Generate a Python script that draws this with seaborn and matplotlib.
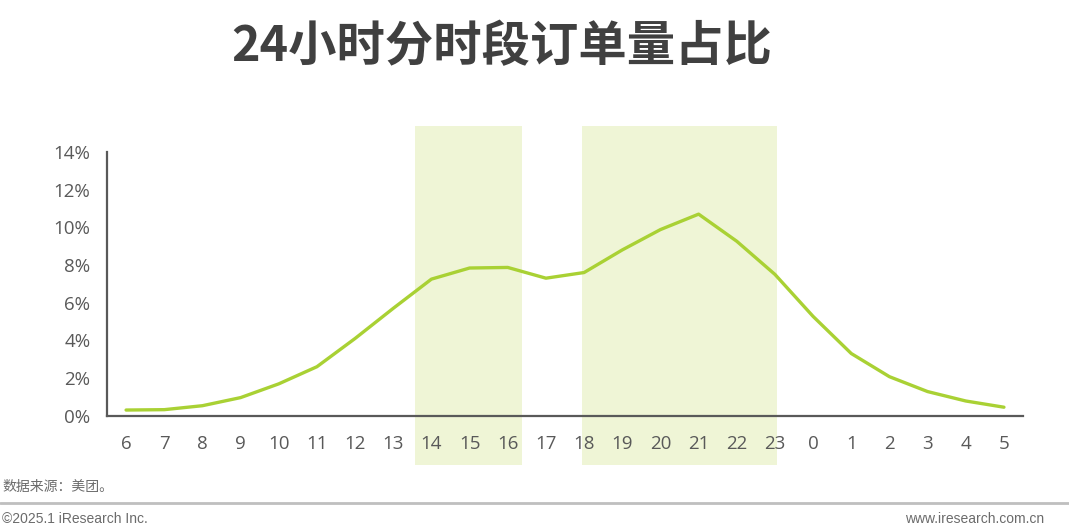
import pandas as pd
import numpy as np
import matplotlib.pyplot as plt
import seaborn as sns
from matplotlib.patches import Rectangle
import matplotlib.transforms as mtransforms

# data
hours = ["6", "7", "8", "9", "10", "11", "12", "13", "14", "15", "16", "17",
         "18", "19", "20", "21", "22", "23", "0", "1", "2", "3", "4", "5"]
share = [0.30, 0.32, 0.53, 0.96, 1.69, 2.60, 4.10, 5.70, 7.25, 7.84, 7.87, 7.30,
         7.60, 8.80, 9.88, 10.70, 9.26, 7.50, 5.27, 3.30, 2.07, 1.28, 0.78, 0.45]
peak_bands = [("14", "16"), ("18", "23")]
y_ticks = [0, 2, 4, 6, 8, 10, 12, 14]

title = "24小时分时段订单量占比"
source = "数据来源：美团。"
footer_left = "©2025.1 iResearch Inc."
footer_right = "www.iresearch.com.cn"

line_color = "#A9D134"
band_color = "#EFF5D6"
axis_color = "#595959"

sns.set_style("white")
plt.rcParams['font.family'] = ['Noto Sans CJK SC', 'DejaVu Sans']

df = pd.DataFrame({"hour": hours, "share": share})
df["pos"] = np.arange(len(df))

fig = plt.figure(figsize=(10.69, 5.29), dpi=100)
ax = fig.add_axes([0.1001, 0.2142, 0.8569, 0.4985])

# highlighted time slots, running below the tick labels
band_pads = [(0.42, 0.37), (0.05, 0.05)]
trans = mtransforms.blended_transform_factory(ax.transData, ax.transAxes)
for (start, end), (pl, pr) in zip(peak_bands, band_pads):
    x0 = hours.index(start) - pl
    x1 = hours.index(end) + pr
    ax.add_patch(Rectangle((x0, -0.187), x1 - x0, 1.286, transform=trans,
                           facecolor=band_color, edgecolor="none",
                           clip_on=False, zorder=0))

sns.lineplot(data=df, x="pos", y="share", ax=ax, color=line_color,
             linewidth=2.4, solid_capstyle="round", solid_joinstyle="round",
             zorder=3)

ax.set_xlim(-0.5, 23.5)
ax.set_ylim(0, 14)
ax.set_xticks(df["pos"])
ax.set_xticklabels(hours)
ax.set_yticks(y_ticks)
ax.set_yticklabels([f"{t}%" for t in y_ticks])
ax.set_xlabel("")
ax.set_ylabel("")
ax.tick_params(axis="both", length=0, labelsize=13.5, labelcolor=axis_color)
ax.tick_params(axis="x", pad=14)
ax.tick_params(axis="y", pad=12)
for lbl in ax.get_xticklabels() + ax.get_yticklabels():
    lbl.set_family(['Open Sans', 'DejaVu Sans'])

sns.despine(ax=ax)
for side in ["left", "bottom"]:
    ax.spines[side].set_color(axis_color)
    ax.spines[side].set_linewidth(1.6)
ax.patch.set_alpha(0)

fig.text(0.469, 0.911, title, ha="center", va="center", fontsize=34.8,
         fontweight="bold", color="#404040")

fig.text(0.002, 0.079, source, ha="left", va="center", fontsize=10,
         color="#6b6b6b")
fig.add_artist(plt.Line2D([0, 1], [0.049, 0.049], color="#BFBFBF",
                          linewidth=2, transform=fig.transFigure))
fig.text(0.002, 0.018, footer_left, ha="left", va="center", fontsize=10,
         color="#6b6b6b", family=['Liberation Sans', 'DejaVu Sans'])
fig.text(0.977, 0.018, footer_right, ha="right", va="center", fontsize=10,
         color="#6b6b6b", family=['Liberation Sans', 'DejaVu Sans'])

fig.savefig("out.png", dpi=100)
